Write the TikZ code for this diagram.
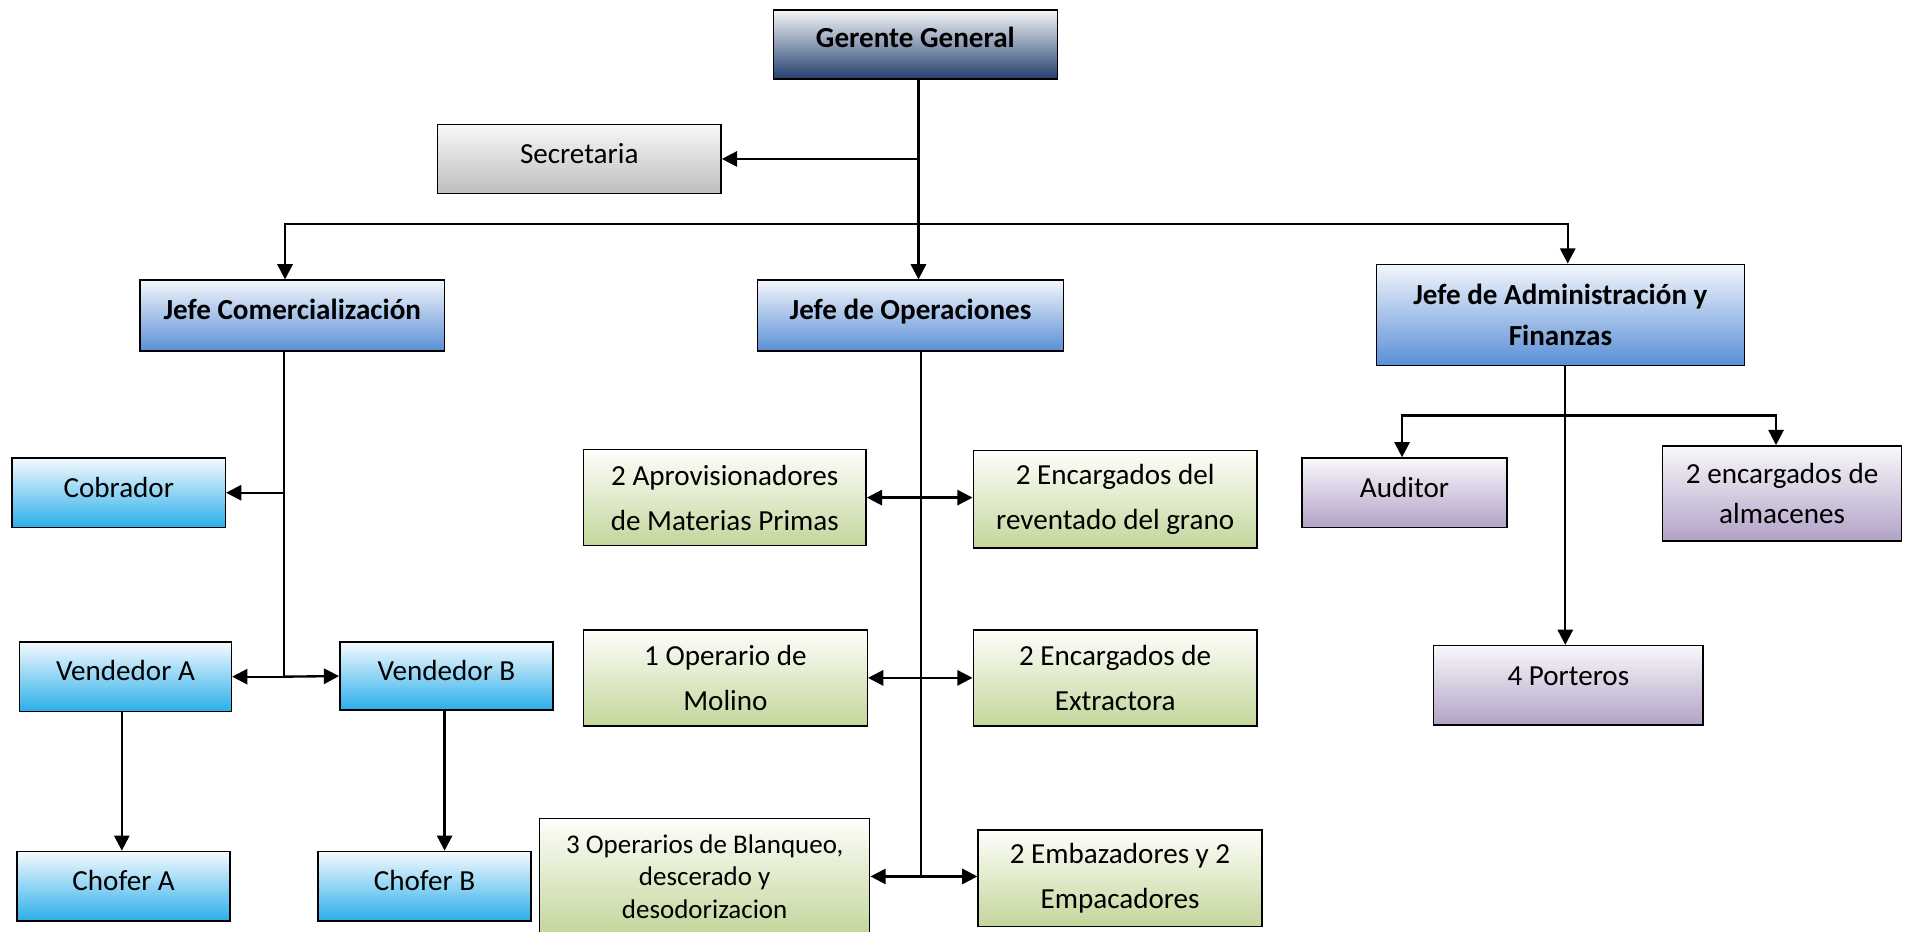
\documentclass[tikz,border=0pt]{standalone}
\usepackage{fontspec}
\setmainfont{Carlito}
\usetikzlibrary{arrows.meta}

\definecolor{navyTop}{HTML}{F6F7FA}
\definecolor{navyMid}{HTML}{A9B2C4}
\definecolor{navyBot}{HTML}{223E6E}
\definecolor{bossTop}{HTML}{F3F6FC}
\definecolor{bossBot}{HTML}{5A8FD6}
\definecolor{skyTop}{HTML}{F6FAFE}
\definecolor{skyBot}{HTML}{2AAEEA}
\definecolor{grayTop}{HTML}{F8F8F8}
\definecolor{grayBot}{HTML}{BDBDBD}
\definecolor{greenTop}{HTML}{FEFEFB}
\definecolor{greenBot}{HTML}{C3D69B}
\definecolor{lilacTop}{HTML}{F9F8FB}
\definecolor{lilacBot}{HTML}{B2A2C7}

\begin{document}
\begin{tikzpicture}[x=0.02cm,y=-0.02cm,
  sz/.style 2 args={minimum width=#1*0.02cm, minimum height=#2*0.02cm},
  box/.style={draw=black, line width=0.7pt, rectangle, inner sep=0pt,
    align=center, text=black, font=\fontsize{13.6}{20}\selectfont},
  oneline/.style={text height=10pt, text depth=#1},
  oneline/.default=6pt,
  topbox/.style={box, top color=navyTop, middle color=navyMid, bottom color=navyBot,
    font=\fontsize{13.6}{20}\selectfont\bfseries},
  bossbox/.style={box, top color=bossTop, bottom color=bossBot,
    font=\fontsize{13.6}{19}\selectfont\bfseries},
  skybox/.style={box, top color=skyTop, bottom color=skyBot},
  graybox/.style={box, top color=grayTop, bottom color=grayBot},
  greenbox/.style={box, top color=greenTop, bottom color=greenBot,
    font=\fontsize{13.6}{21}\selectfont},
  lilacbox/.style={box, top color=lilacTop, bottom color=lilacBot,
    font=\fontsize{13.6}{19}\selectfont},
  link/.style={draw=black, line width=1.1pt},
  arr/.style={link, -{Triangle[length=0.25cm,width=0.25cm]}},
  arrs/.style={link, {Triangle[length=0.25cm,width=0.25cm]}-{Triangle[length=0.25cm,width=0.25cm]}},
  thin link/.style={draw=black, line width=0.8pt}
]
\useasboundingbox (0,0) rectangle (1568,765);

% top management
\node[topbox, oneline=7.5pt, sz={233}{57}] (gg) at (751.5,36.5) {Gerente General};
\node[graybox, oneline, sz={233}{57}] (sec) at (475.5,130.5) {Secretaria};

% department heads
\node[bossbox, oneline, sz={250}{58}] (jc) at (240,259) {Jefe Comercialización};
\node[bossbox, oneline, sz={251}{58}] (jo) at (747.5,259) {Jefe de Operaciones};
\node[bossbox, sz={302}{83}] (ja) at (1281,258.5) {Jefe de Administración y\\Finanzas};

% sales area
\node[skybox, oneline, sz={175}{57}] (cob) at (97.5,404.5) {Cobrador};
\node[skybox, oneline, sz={174}{57}] (va) at (103,555.5) {Vendedor A};
\node[skybox, oneline, sz={175}{56}] (vb) at (366.5,555) {Vendedor B};
\node[skybox, oneline, sz={175}{57}] (ca) at (101.5,727.5) {Chofer A};
\node[skybox, oneline, sz={175}{57}] (cb) at (348.5,727.5) {Chofer B};

% operations area
\node[greenbox, sz={232}{79}] (apr) at (595,408.5) {2 Aprovisionadores\\de Materias Primas};
\node[greenbox, sz={233}{80}] (rev) at (915.5,410) {2 Encargados del\\reventado del grano};
\node[greenbox, sz={233}{79}] (mol) at (595.5,556.5) {1 Operario de\\Molino};
\node[greenbox, sz={233}{79}] (ext) at (915.5,556.5) {2 Encargados de\\Extractora};
\node[greenbox, sz={271}{95}, font=\fontsize{12.6}{15.2}\selectfont] (bla) at (578.5,719.5)
  {3 Operarios de Blanqueo,\\descerado y\\desodorizacion};
\node[greenbox, sz={233}{79}] (emb) at (919.5,721) {2 Embazadores y 2\\Empacadores};

% administration area
\node[lilacbox, oneline, sz={168}{57}] (aud) at (1153,404.5) {Auditor};
\node[lilacbox, sz={196}{78}] (alm) at (1463,405) {2 encargados de\\almacenes};
\node[lilacbox, oneline=10pt, sz={221}{65}] (por) at (1287.5,562.5) {4 Porteros};

% general manager links
\coordinate (trunk) at (754,0);
\coordinate (bus) at (754,184);
\draw[arr] (trunk |- gg.south) -- (trunk |- jo.north);
\draw[arr] (trunk |- sec.east) -- (sec.east);
\draw[arr] (bus) -| (jc.north -| 234,0);
\draw[arr] (bus) -| (ja.north -| 1287,0);

% sales links
\coordinate (ctr) at (233,0);
\draw[thin link] (ctr |- jc.south) -- (ctr |- va.east);
\draw[arr] (ctr |- cob.east) -- (cob.east);
\draw[arr] (ctr |- va.east) -- (va.east);
\draw[arr] (ctr |- va.east) -- (vb.west);
\draw[arr] (va.south -| 100,0) -- (ca.north -| 100,0);
\draw[arr] (vb.south -| 365,0) -- (cb.north -| 365,0);

% operations links
\coordinate (otr) at (756,0);
\draw[thin link] (otr |- jo.south) -- (otr |- bla.east);
\draw[arrs] (apr.east) -- (apr.east -| rev.west);
\draw[arrs] (mol.east) -- (mol.east -| ext.west);
\draw[arrs] (bla.east) -- (bla.east -| emb.west);

% administration links
\coordinate (atr) at (1285,0);
\coordinate (abus) at (1285,341);
\draw[arr] (atr |- ja.south) -- (atr |- por.north);
\draw[arr] (abus) -| (aud.north -| 1151,0);
\draw[arr] (abus) -| (alm.north -| 1458,0);
\end{tikzpicture}
\end{document}
